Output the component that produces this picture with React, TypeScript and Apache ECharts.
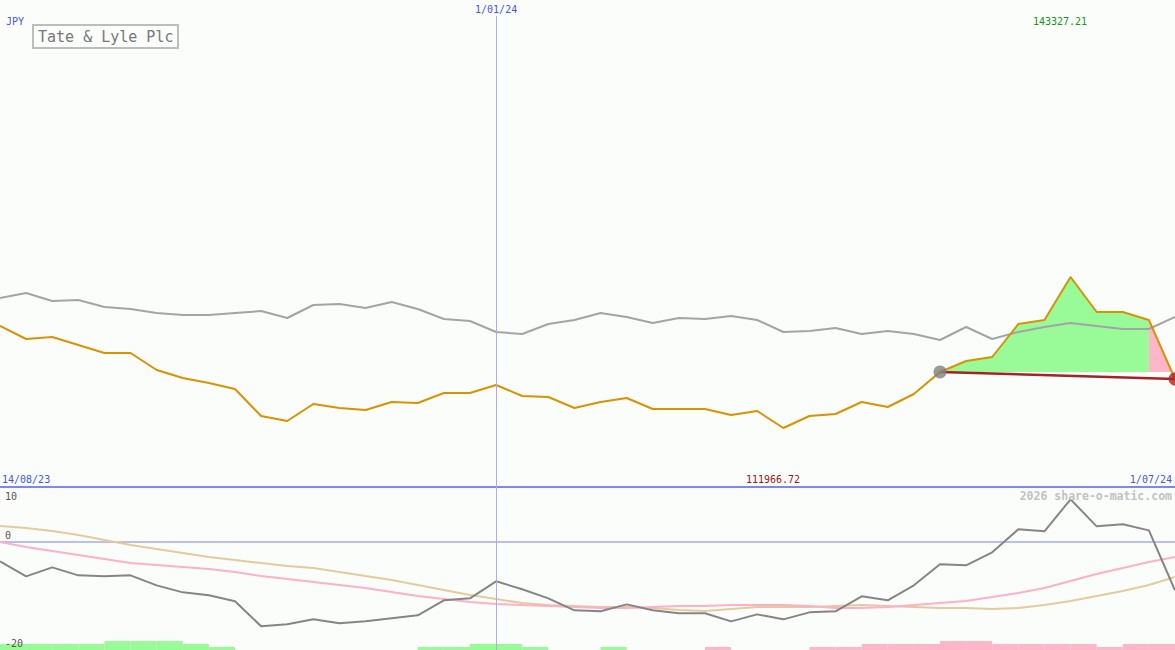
import React, { useEffect, useRef } from "react";
import * as echarts from "echarts";

// Weekly dates (first point 21/08/23, last 1/07/24)
const dates: string[] = [];
for (let i = 0; i < 46; i++) {
  const d = new Date(2023, 7, 21 + 7 * i);
  dates.push(`${d.getDate()}/${String(d.getMonth() + 1).padStart(2, "0")}/${String(d.getFullYear()).slice(2)}`);
}
const barPeriods = dates.slice(1);

const price = [133151, 130451, 130867, 129205, 127544, 127544, 124013, 122352, 121313, 120067,
  114459, 113421, 116952, 116121, 115705, 117367, 117159, 119236, 119236, 120898,
  118613, 118405, 116121, 117367, 118198, 115913, 115913, 115913, 114667, 115498,
  111966.72, 114459, 114875, 117367, 116328, 119028, 123598, 125882, 126713, 133567,
  134398, 143327.21, 136059, 136059, 134398, 122144];

const indexLine = [138967, 140005, 138344, 138551, 137097, 136682, 135851, 135436, 135436, 135851,
  136267, 134813, 137513, 137721, 136890, 138136, 136682, 134605, 134190, 131905,
  131490, 133567, 134398, 135851, 135021, 133774, 134813, 134605, 135228, 134398,
  131905, 132113, 132736, 131490, 132113, 131490, 130244, 132944, 130451, 131905,
  132944, 133774, 133151, 132528, 132528, 135021];

const buyIndex = 36;
const lastIndex = 45;

const momentum = [-3.68, -6.44, -4.79, -6.26, -6.44, -6.26, -8.1, -9.39, -9.94, -11.04,
  -15.64, -15.28, -14.36, -15.09, -14.73, -14.17, -13.62, -10.86, -10.49, -7.36,
  -8.83, -10.49, -12.7, -12.88, -11.6, -12.7, -13.25, -13.25, -14.73, -13.44,
  -14.36, -13.07, -12.88, -10.12, -10.86, -8.1, -4.23, -4.42, -2.02, 2.21,
  1.84, 7.73, 2.76, 3.13, 2.02, -9.02];

const pinkAvg = [-0.13, -1.05, -1.79, -2.52, -3.26, -4.0, -4.36, -4.73, -5.1, -5.65,
  -6.39, -6.94, -7.49, -8.04, -8.6, -9.33, -10.07, -10.62, -11.17, -11.54,
  -11.73, -11.91, -12.09, -12.28, -12.28, -12.09, -11.91, -11.91, -11.73, -11.73,
  -11.73, -11.91, -12.28, -12.28, -12.09, -11.73, -11.36, -10.99, -10.25, -9.52,
  -8.6, -7.31, -6.02, -4.92, -3.81, -2.89];

const tanAvg = [2.82, 2.45, 1.9, 1.16, 0.24, -0.68, -1.42, -2.15, -2.89, -3.44,
  -4.0, -4.55, -4.92, -5.65, -6.39, -7.12, -8.04, -8.96, -9.88, -10.62,
  -11.36, -11.73, -11.91, -12.09, -12.09, -12.28, -12.65, -12.83, -12.46, -12.09,
  -12.09, -12.09, -11.91, -11.73, -11.91, -12.09, -12.28, -12.28, -12.46, -12.28,
  -11.73, -11.0, -10.07, -9.15, -8.04, -6.57];

const greenBars = [2, 2, 2, 2, 3, 3, 3, 2, 1, 0, 0, 0, 0, 0, 0, 0, 1, 1, 2, 2, 1, 0, 0, 1, 0,
  0, 0, 0, 0, 0, 0, 0, 0, 0, 0, 0, 0, 0, 0, 0, 0, 0, 0, 0, 0];
const pinkBars = [0, 0, 0, 0, 0, 0, 0, 0, 0, 0, 0, 0, 0, 0, 0, 0, 0, 0, 0, 0, 0, 0, 0, 0, 0,
  0, 0, 1, 0, 0, 0, 1, 1, 2, 2, 2, 3, 3, 2, 2, 2, 2, 1, 2, 2];

const maxLabel = "143327.21";
const minLabel = "111966.72";
const mono = "DejaVu Sans Mono";
const blue = "#4455ee";

export default function App() {
  const ref = useRef<HTMLDivElement>(null);
  useEffect(() => {
    document.body.style.margin = "0";
    const chart = echarts.init(ref.current!, undefined, { renderer: "svg" });
    const base = price[buyIndex];
    const greenData = price.map((v, i) => (i >= buyIndex && i <= lastIndex - 1 ? v : null));
    const pinkData = price.map((v, i) => (i >= lastIndex - 1 ? v : null));
    const redData = price.map((v, i) => (i === buyIndex || i === lastIndex ? v : null));
    const txt = (x: number, y: number, text: string, fill: string, align = "left", size = 10, weight = "normal") => ({
      type: "text", x, y, silent: true, z: 100,
      style: { text, fill, font: `${weight} ${size}px "${mono}"`, textAlign: align, textVerticalAlign: "middle" },
    });
    chart.setOption({
      animation: false,
      backgroundColor: "#fbfdfb",
      grid: [
        { left: 0, right: 0, top: 16, height: 471 },
        { left: 0, right: 0, top: 487, bottom: 0 },
        { left: 0, right: 0, bottom: 0, height: 30 },
      ],
      xAxis: [
        { gridIndex: 0, type: "category", data: dates, boundaryGap: false, axisLabel: { show: false }, axisTick: { show: false },
          axisLine: { show: true, onZero: false, lineStyle: { color: "#7b89ee", width: 2 } }, splitLine: { show: false } },
        { gridIndex: 1, type: "category", data: dates, boundaryGap: false, axisLabel: { show: false }, axisTick: { show: false },
          axisLine: { show: true, onZero: true, lineStyle: { color: "#a3aaf0", width: 1.5 } }, splitLine: { show: false } },
        { gridIndex: 2, type: "category", data: barPeriods, boundaryGap: true, show: false },
      ],
      yAxis: [
        { gridIndex: 0, type: "value", min: 99713, max: 197534, show: false, splitLine: { show: false } },
        { gridIndex: 1, type: "value", min: -20, max: 10, show: false, splitLine: { show: false } },
        { gridIndex: 2, type: "value", min: 0, max: 10, show: false, splitLine: { show: false } },
      ],
      series: [
        { type: "bar", xAxisIndex: 2, yAxisIndex: 2, data: greenBars, barWidth: "100%", barGap: "-100%", barCategoryGap: "0%",
          itemStyle: { color: "#98fb98", borderWidth: 0 }, silent: true, z: 1 },
        { type: "bar", xAxisIndex: 2, yAxisIndex: 2, data: pinkBars, barWidth: "100%", barGap: "-100%", barCategoryGap: "0%",
          itemStyle: { color: "#ffb6c8", borderWidth: 0 }, silent: true, z: 1 },
        { type: "line", xAxisIndex: 0, yAxisIndex: 0, data: greenData, symbol: "none", lineStyle: { width: 0 },
          areaStyle: { color: "#98fb98", opacity: 1, origin: base }, z: 1 },
        { type: "line", xAxisIndex: 0, yAxisIndex: 0, data: pinkData, symbol: "none", lineStyle: { width: 0 },
          areaStyle: { color: "#ffb6c8", opacity: 1, origin: base }, z: 1 },
        { type: "line", xAxisIndex: 0, yAxisIndex: 0, data: indexLine, symbol: "none", lineStyle: { color: "#a4a4a4", width: 2 }, z: 2 },
        { type: "line", xAxisIndex: 0, yAxisIndex: 0, data: redData, connectNulls: true, symbol: "none", lineStyle: { color: "#a52323", width: 2.5 }, z: 3 },
        { type: "line", xAxisIndex: 0, yAxisIndex: 0, data: price, symbol: "none", lineStyle: { color: "#d99200", width: 2 }, z: 4,
          markLine: { silent: true, symbol: ["none", "none"], data: [{ xAxis: 19 }],
            lineStyle: { color: "#a9b0e0", width: 1, type: "solid" },
            label: { show: true, position: "end", formatter: dates[19], color: blue, fontSize: 10, fontFamily: mono, distance: 2 } } },
        { type: "scatter", xAxisIndex: 0, yAxisIndex: 0, symbolSize: 13, z: 5, silent: true,
          data: [
            { value: [buyIndex, price[buyIndex]], itemStyle: { color: "#808080" } },
            { value: [lastIndex, price[lastIndex]], itemStyle: { color: "#b02222" } },
          ] },
        { type: "line", xAxisIndex: 1, yAxisIndex: 1, data: tanAvg, symbol: "none", lineStyle: { color: "#e3cb9b", width: 2 }, z: 2 },
        { type: "line", xAxisIndex: 1, yAxisIndex: 1, data: pinkAvg, symbol: "none", lineStyle: { color: "#ffb0c8", width: 2 }, z: 2 },
        { type: "line", xAxisIndex: 1, yAxisIndex: 1, data: momentum, symbol: "none", lineStyle: { color: "#858585", width: 2 }, z: 3,
          markLine: { silent: true, symbol: ["none", "none"], data: [{ xAxis: 19 }], label: { show: false },
            lineStyle: { color: "#a9b0e0", width: 1, type: "solid" } } },
      ],
      graphic: [
        txt(6, 21, "JPY", blue),
        { type: "rect", shape: { x: 33, y: 25, width: 145, height: 23 }, style: { fill: "#fbfdfb", stroke: "#bdbdbd", lineWidth: 2 }, z: 99, silent: true },
        txt(38, 37, "Tate & Lyle Plc", "#777777", "left", 15),
        txt(1060, 21, maxLabel, "#119911", "center"),
        txt(2, 479, "14/08/23", blue),
        txt(1172, 479, dates[45], blue, "right"),
        txt(773, 479, minLabel, "#a01515", "center"),
        txt(5, 496, "10", "#555555"),
        txt(5, 535, "0", "#555555"),
        txt(5, 643, "-20", "#555555"),
        txt(1172, 496, "2026 share-o-matic.com", "#c2c2c2", "right", 11.5, "bold"),
      ],
    });
    return () => chart.dispose();
  }, []);
  return <div ref={ref} style={{ position: "absolute", left: 0, top: 0, width: 1175, height: 650 }} />;
}
